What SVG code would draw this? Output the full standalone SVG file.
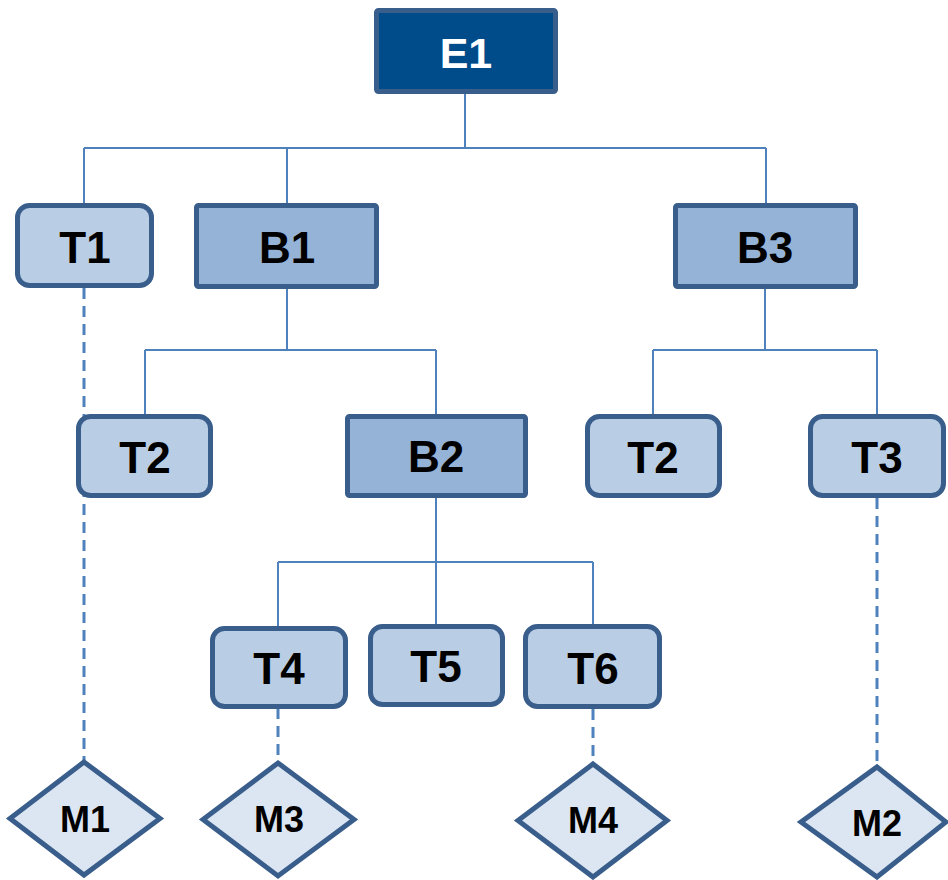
<svg xmlns="http://www.w3.org/2000/svg" width="948" height="880" viewBox="0 0 948 880">
<style>
.c{stroke:#4F81BD;stroke-width:2;fill:none}
.d{stroke:#4F81BD;stroke-width:3;fill:none;stroke-dasharray:11 7}
.e{fill:#004C8A;stroke:#3A5E8C;stroke-width:5}
.b{fill:#95B3D7;stroke:#3A5E8C;stroke-width:5}
.t{fill:#B9CDE5;stroke:#3A5E8C;stroke-width:5}
.m{fill:#DCE6F2;stroke:#3A5E8C;stroke-width:5;stroke-linejoin:miter}
text{font-family:"Liberation Sans",Arial,sans-serif;font-weight:bold;text-anchor:middle;fill:#000}
.lg{font-size:44px}
.sm{font-size:36px}
</style>
<rect width="948" height="880" fill="#fff"/>
<g id="connectors">
<path class="c" d="M465 93V148M84 148H766M84 148V203M287 148V203M766 148V203"/>
<path class="c" d="M287 289V350M145 350H436M145 350V414M436 350V414"/>
<path class="c" d="M765 289V350M653 350H877M653 350V414M877 350V414"/>
<path class="c" d="M436 498V562M278 562H593M278 562V626M436 562V624M593 562V624"/>
<path class="d" d="M84 288V760"/>
<path class="d" d="M278 708V761"/>
<path class="d" d="M593 709V762"/>
<path class="d" d="M877 498V765"/>
</g>
<g id="E1"><rect class="e" x="376.5" y="10.5" width="179" height="81" rx="2"/><text x="466" y="68" class="lg" style="fill:#fff;font-size:43px">E1</text></g>
<g id="T1"><rect class="t" x="17.5" y="205.5" width="134" height="80" rx="12"/><text x="85" y="263" class="lg">T1</text></g>
<g id="B1"><rect class="b" x="196.5" y="205.5" width="180" height="81" rx="2"/><text x="287" y="263" class="lg">B1</text></g>
<g id="B3"><rect class="b" x="675.5" y="205.5" width="180" height="81" rx="2"/><text x="765" y="263" class="lg">B3</text></g>
<g id="T2a"><rect class="t" x="78.5" y="416.5" width="132" height="79" rx="12"/><text x="145" y="473" class="lg">T2</text></g>
<g id="B2"><rect class="b" x="347.5" y="416.5" width="178" height="79" rx="2"/><text x="436" y="472" class="lg">B2</text></g>
<g id="T2b"><rect class="t" x="587.5" y="416.5" width="132" height="79" rx="12"/><text x="653" y="473" class="lg">T2</text></g>
<g id="T3"><rect class="t" x="810.5" y="416.5" width="133" height="79" rx="12"/><text x="877" y="473" class="lg">T3</text></g>
<g id="T4"><rect class="t" x="212.5" y="628.5" width="133" height="78" rx="12"/><text x="279" y="684" class="lg">T4</text></g>
<g id="T5"><rect class="t" x="370.5" y="626.5" width="132" height="78" rx="12"/><text x="436" y="682" class="lg">T5</text></g>
<g id="T6"><rect class="t" x="525.5" y="626.5" width="134" height="80" rx="12"/><text x="593" y="684" class="lg">T6</text></g>
<g id="M1"><polygon class="m" points="84,762 160,818.5 84,875 10,818.5"/><text x="85" y="832" class="sm">M1</text></g>
<g id="M3"><polygon class="m" points="278,763 354,819.5 278,876 203,819.5"/><text x="279" y="832" class="sm">M3</text></g>
<g id="M4"><polygon class="m" points="593,764 667,820.5 593,877 518,820.5"/><text x="593" y="833" class="sm">M4</text></g>
<g id="M2"><polygon class="m" points="877,767 946,822 877,877 801,822"/><text x="877" y="836" class="sm">M2</text></g>
</svg>
